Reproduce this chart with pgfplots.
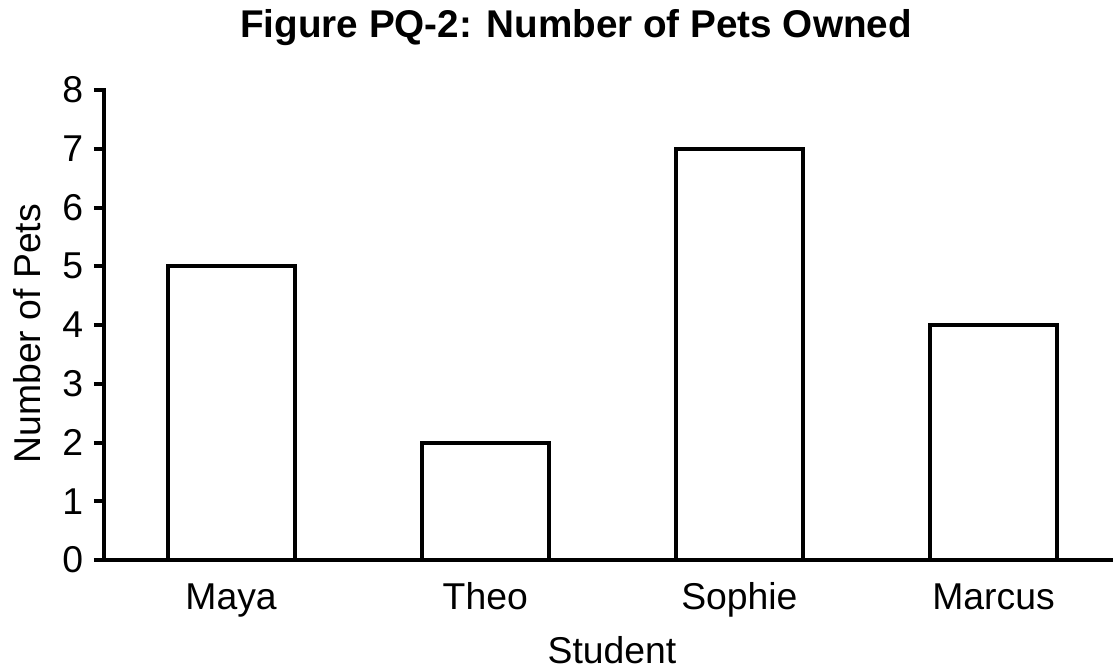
\documentclass[border=0pt]{standalone}
\usepackage{pgfplots}
\pgfplotsset{compat=1.18}
\usepackage{fontspec}
\setmainfont{Liberation Sans}
\begin{document}
\begin{tikzpicture}
\useasboundingbox (0,0) rectangle (834.75pt,503.25pt);
\begin{axis}[
  at={(78pt,83.25pt)}, anchor=south west,
  scale only axis, width=756.75pt, height=352.5pt,
  xmin=-0.5, xmax=3.47, ymin=0, ymax=8,
  axis lines*=left,
  axis line style={line width=3pt, line cap=rect},
  ytick={0,...,8},
  xtick={0,1,2,3},
  xticklabels={Maya,Theo,Sophie,Marcus},
  major x tick style={draw=none},
  major tick length=7.5pt,
  tick align=outside,
  ytick style={line width=3pt, black},
  /pgf/number format/assume math mode=true,
  ticklabel style={font=\fontsize{28}{32}\selectfont},
  yticklabel style={anchor=east, inner sep=0pt, xshift=-8pt},
  xticklabel style={anchor=base, inner sep=0pt, yshift=-30pt},
  clip=false,
]
\addplot[ybar, bar width=0.5, fill=white, draw=black, line width=3pt] coordinates {(0,5) (1,2) (2,7) (3,4)};
\end{axis}
\node[anchor=base, font=\fontsize{29}{33}\selectfont\bfseries, inner sep=0pt] at (432pt,474.75pt) {Figure PQ-2: Number of Pets Owned};
\node[anchor=base, font=\fontsize{28}{32}\selectfont, inner sep=0pt] at (459pt,6pt) {Student};
\node[anchor=base, rotate=90, font=\fontsize{28}{32}\selectfont, inner sep=0pt] at (30pt,253pt) {Number of Pets};
\end{tikzpicture}
\end{document}
